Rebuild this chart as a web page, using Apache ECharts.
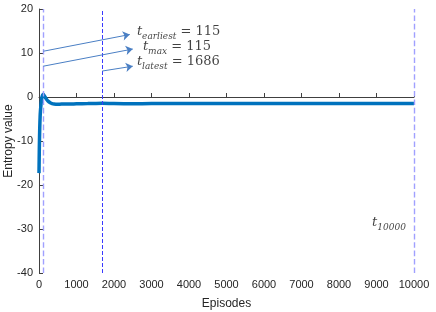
<!DOCTYPE html>
<html><head><meta charset="utf-8">
<script src="https://cdn.jsdelivr.net/npm/echarts@6/dist/echarts.min.js"></script>
<style>html,body{margin:0;padding:0;background:#fff}#c{width:436px;height:312px}</style>
</head><body><div id="c"></div>
<script>
var episodes = [0, 5, 10, 20, 30, 40, 50, 60, 70, 80, 95, 115, 140, 170, 200, 250, 300, 350, 400, 500, 600, 800, 1000, 1300, 1686, 2000, 2500, 3000, 4000, 5000, 6000, 7000, 8000, 9000, 10000];
var entropy = [-17.3, -14, -11, -7, -4.5, -3, -2, -1.2, -0.5, 0, 0.4, 0.6, 0.3, -0.1, -0.5, -1.0, -1.3, -1.5, -1.6, -1.65, -1.6, -1.6, -1.55, -1.5, -1.4, -1.5, -1.55, -1.5, -1.5, -1.5, -1.5, -1.5, -1.5, -1.5, -1.5];
var xTicks = [0, 1000, 2000, 3000, 4000, 5000, 6000, 7000, 8000, 9000, 10000];
var yTicks = [-40, -30, -20, -10, 0, 10, 20];
var markers = [115, 1686, 10000];
var markerColors = ['#a0a0ff', '#3a3aff', '#a0a0ff'];
var arrows = [[115, 10.4, 2420, 14.2], [115, 7.0, 2500, 10.9], [1686, 5.9, 2500, 7.0]];
var labels = [
  {x: 2610, y: 14.8, sub: 'earliest', val: '115'},
  {x: 2770, y: 11.4, sub: 'max', val: '115'},
  {x: 2610, y: 8.1, sub: 'latest', val: '1686'}
];

var chart = echarts.init(document.getElementById('c'));
var serif = '"DejaVu Serif", "Liberation Serif", serif';
var rich = {
  t: {fontFamily: serif, fontStyle: 'italic', fontSize: 13, color: '#111', verticalAlign: 'bottom'},
  s: {fontFamily: serif, fontStyle: 'italic', fontSize: 9, color: '#111', verticalAlign: 'bottom', padding: [0, 0, -3, 0]},
  v: {fontFamily: serif, fontSize: 13, color: '#111', verticalAlign: 'bottom'}
};
var data = episodes.map(function (e, i) { return [e, entropy[i]]; });
var sans = '"Liberation Sans", Arial, sans-serif';

var series = [
  {
    type: 'line', data: data, showSymbol: false, smooth: 0.3,
    lineStyle: {color: '#0072BD', width: 3.5},
    z: 3
  }
];
markers.forEach(function (m, i) {
  series.push({
    type: 'line', data: [], z: 4,
    markLine: {
      silent: true, symbol: ['none', 'none'], label: {show: false},
      lineStyle: {color: markerColors[i], type: 'dashed', width: i === 1 ? 1 : 1.4, opacity: 1},
      data: [{xAxis: m}]
    }
  });
});
series.push({
  type: 'line', data: [], z: 4,
  markLine: {
    silent: true, symbol: ['none', 'arrow'], symbolSize: 7, label: {show: false},
    lineStyle: {color: '#4a7fc4', type: 'solid', width: 1, opacity: 1},
    itemStyle: {color: '#4a7fc4'},
    data: arrows.map(function (a) { return [{coord: [a[0], a[1]]}, {coord: [a[2], a[3]]}]; })
  }
});
series.push({
  type: 'scatter', symbolSize: 0, z: 5,
  data: labels.map(function (l) { return {value: [l.x, l.y], sub: l.sub, val: l.val}; }),
  label: {
    show: true, position: 'right', distance: 0,
    formatter: function (p) { return '{t|t}{s|' + p.data.sub + '}{v| = ' + p.data.val + '}'; },
    rich: rich
  }
});
series.push({
  type: 'scatter', symbolSize: 0, z: 5,
  data: [[8880, -28.6]],
  label: {show: true, position: 'right', distance: 0, formatter: '{t|t}{s|10000}', rich: rich}
});

chart.setOption({
  animation: false,
  grid: {left: 39, right: 22, top: 9, bottom: 39, containLabel: false, outerBoundsMode: 'none'},
  xAxis: {
    type: 'value', min: 0, max: 10000, interval: 1000,
    name: 'Episodes', nameLocation: 'middle', nameGap: 25, nameMoveOverlap: false,
    nameTextStyle: {color: '#262626', fontSize: 12, fontFamily: sans},
    axisLine: {show: true, lineStyle: {color: '#404040'}},
    axisTick: {show: true, inside: true, length: 4, lineStyle: {color: '#404040'}},
    axisLabel: {color: '#262626', fontSize: 11, fontFamily: sans, margin: 6, formatter: function (v) { return String(v); }},
    splitLine: {show: false}
  },
  yAxis: {
    type: 'value', min: -40, max: 20, interval: 10,
    name: 'Entropy value', nameLocation: 'middle', nameGap: 24, nameMoveOverlap: false,
    nameTextStyle: {color: '#262626', fontSize: 12, fontFamily: sans},
    axisLine: {show: true, lineStyle: {color: '#404040'}},
    axisTick: {show: true, inside: true, length: 4, lineStyle: {color: '#404040'}},
    axisLabel: {color: '#262626', fontSize: 11, fontFamily: sans, margin: 6, formatter: function (v) { return String(v); }},
    splitLine: {show: false}
  },
  series: series
});
</script></body></html>
